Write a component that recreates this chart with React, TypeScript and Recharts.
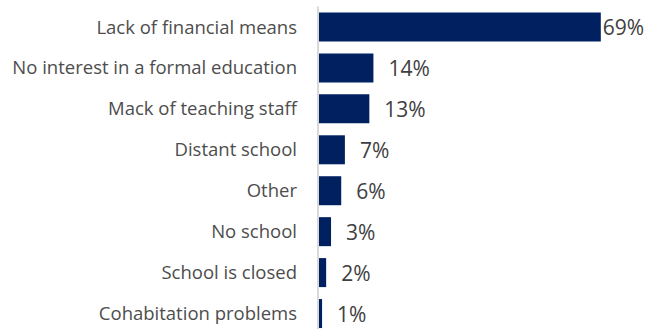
import React from "react";
import { BarChart, Bar, XAxis, YAxis, LabelList } from "recharts";

const categories = [
  "Lack of financial means",
  "No interest in a formal education",
  "Mack of teaching staff",
  "Distant school",
  "Other",
  "No school",
  "School is closed",
  "Cohabitation problems",
];
const values = [69.4, 13.6, 12.6, 6.6, 5.7, 3.2, 2.0, 1.0];

const data = categories.map((c, i) => ({ name: c, value: values[i] }));

const FONT = "'Open Sans', sans-serif";

const renderLabel = (props: any) => {
  const { x, y, width, height, value, index } = props;
  const off = index === 0 ? 2 : 15;
  return (
    <text
      x={x + width + off}
      y={y + height / 2}
      dominantBaseline="central"
      textAnchor="start"
      fill="#404040"
      fontSize={21}
      fontFamily={FONT}
    >
      {Math.round(value) + "%"}
    </text>
  );
};

export default function App() {
  return (
    <div style={{ position: "absolute", left: 0, top: 0 }}>
      <BarChart
        width={652}
        height={341}
        data={data}
        layout="vertical"
        margin={{ top: 6.5, right: 8, bottom: 7, left: 0 }}
        barCategoryGap="14.6%"
      >
        <XAxis type="number" domain={[0, 80]} hide />
        <YAxis
          type="category"
          dataKey="name"
          width={318}
          tickLine={false}
          axisLine={{ stroke: "#d9d9d9", strokeWidth: 2 }}
          tickMargin={15}
          tick={{ fill: "#4d4d4d", fontSize: 18.5, fontFamily: FONT }}
          interval={0}
        />
        <Bar dataKey="value" fill="#002060" isAnimationActive={false}>
          <LabelList dataKey="value" content={renderLabel} />
        </Bar>
      </BarChart>
    </div>
  );
}
